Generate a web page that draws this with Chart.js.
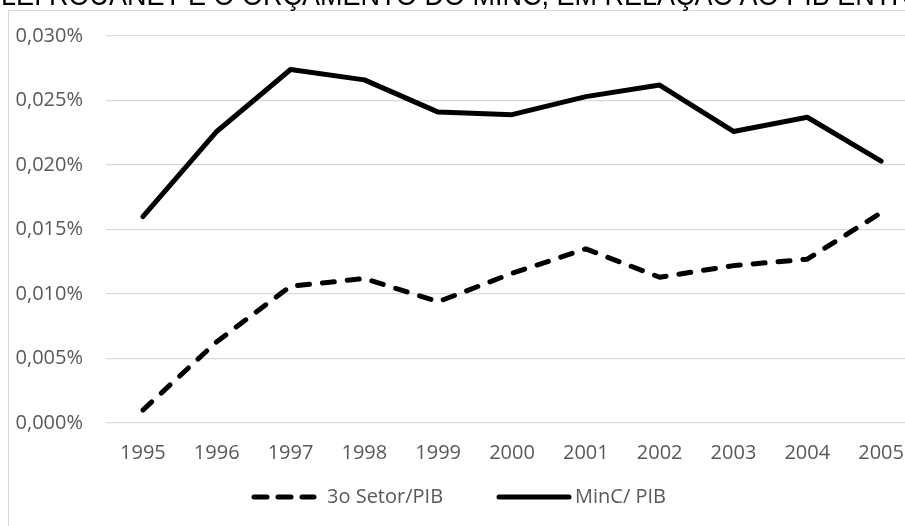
<!DOCTYPE html>
<html lang="pt">
<head>
  <meta charset="UTF-8">
  <title>3o Setor e MinC em relação ao PIB</title>
  <script src="https://cdn.jsdelivr.net/npm/chart.js"></script>
  <style>
    html, body {
      margin: 0;
      padding: 0;
      overflow: hidden;
      background: white;
      width: 905px;
      height: 526px;
    }
    #title {
      position: absolute;
      left: 1px;
      top: -20px;
      font-family: 'Liberation Sans', Arial, sans-serif;
      font-size: 30px;
      line-height: 30px;
      color: #000;
      white-space: nowrap;
      transform: scaleX(0.9);
      transform-origin: 0 0;
    }
    #frame {
      position: absolute;
      left: 8px;
      top: 10px;
      width: 1000px;
      height: 600px;
      border: 1px solid #d9d9d9;
    }
    #wrap {
      position: absolute;
      left: 0;
      top: 0;
      width: 940px;
      height: 560px;
    }
  </style>
</head>
<body>
  <div id="frame"></div>
  <div id="wrap"><canvas id="chart"></canvas></div>
  <div id="title">LEI ROUANET E O ORÇAMENTO DO MINC, EM RELAÇÃO AO PIB ENTRE 1995 E 2005</div>

  <script>
    // valores em % do PIB
    const years = ['1995', '1996', '1997', '1998', '1999', '2000', '2001', '2002', '2003', '2004', '2005'];
    const terceiroSetor = [0.0010, 0.0063, 0.0106, 0.0112, 0.0094, 0.0116, 0.0135, 0.0113, 0.0122, 0.0127, 0.0163];
    const minc = [0.0160, 0.0226, 0.0274, 0.0266, 0.0241, 0.0239, 0.0253, 0.0262, 0.0226, 0.0237, 0.0203];
    const yMax = 0.030;
    const yStep = 0.005;

    const labelFont = { family: "'Open Sans', sans-serif", size: 20 };
    const gray = '#595959';

    // legenda desenhada à mão, como no Excel (abaixo do eixo, à esquerda do centro)
    const excelLegend = {
      id: 'excelLegend',
      afterDraw(chart) {
        const ctx = chart.ctx;
        const y = 497;
        const items = [
          { ds: chart.data.datasets[0], x0: 254, x1: 314, tx: 327 },
          { ds: chart.data.datasets[1], x0: 499, x1: 569, tx: 575 }
        ];
        ctx.save();
        items.forEach(it => {
          ctx.beginPath();
          ctx.lineWidth = it.ds.borderWidth;
          ctx.strokeStyle = it.ds.borderColor;
          ctx.lineCap = 'round';
          ctx.setLineDash(it.ds.borderDash.length ? [13, 11] : []);
          ctx.moveTo(it.x0, y);
          ctx.lineTo(it.x1, y);
          ctx.stroke();
          ctx.setLineDash([]);
          ctx.fillStyle = gray;
          ctx.font = labelFont.size + 'px ' + labelFont.family;
          ctx.textBaseline = 'middle';
          ctx.textAlign = 'left';
          ctx.fillText(it.ds.label, it.tx, y);
        });
        ctx.restore();
      }
    };

    const ctx = document.getElementById('chart').getContext('2d');
    new Chart(ctx, {
      type: 'line',
      data: {
        labels: years,
        datasets: [
          {
            label: '3o Setor/PIB',
            data: terceiroSetor,
            borderColor: '#000',
            borderWidth: 5,
            borderDash: [12, 13],
            borderCapStyle: 'round',
            borderJoinStyle: 'round',
            pointRadius: 0,
            tension: 0,
            fill: false
          },
          {
            label: 'MinC/ PIB',
            data: minc,
            borderColor: '#000',
            borderWidth: 5,
            borderDash: [],
            borderCapStyle: 'round',
            borderJoinStyle: 'round',
            pointRadius: 0,
            tension: 0,
            fill: false
          }
        ]
      },
      options: {
        responsive: true,
        maintainAspectRatio: false,
        animation: false,
        layout: { padding: { top: 36, right: 22, left: 0, bottom: 0 } },
        plugins: {
          legend: { display: false },
          tooltip: { enabled: false }
        },
        scales: {
          x: {
            offset: true,
            grid: { display: false, drawTicks: false },
            border: { display: false },
            ticks: { color: gray, font: labelFont, padding: 18, maxRotation: 0 },
            afterFit: s => { s.height = 137; }
          },
          y: {
            min: 0,
            max: yMax,
            grid: { color: '#d9d9d9', lineWidth: 1.3, drawTicks: false },
            border: { display: false },
            ticks: {
              stepSize: yStep,
              color: gray,
              font: labelFont,
              padding: 23,
              callback: v => v.toFixed(3).replace('.', ',') + '%'
            },
            afterFit: s => { s.width = 106; }
          }
        }
      },
      plugins: [excelLegend]
    });
  </script>
</body>
</html>
